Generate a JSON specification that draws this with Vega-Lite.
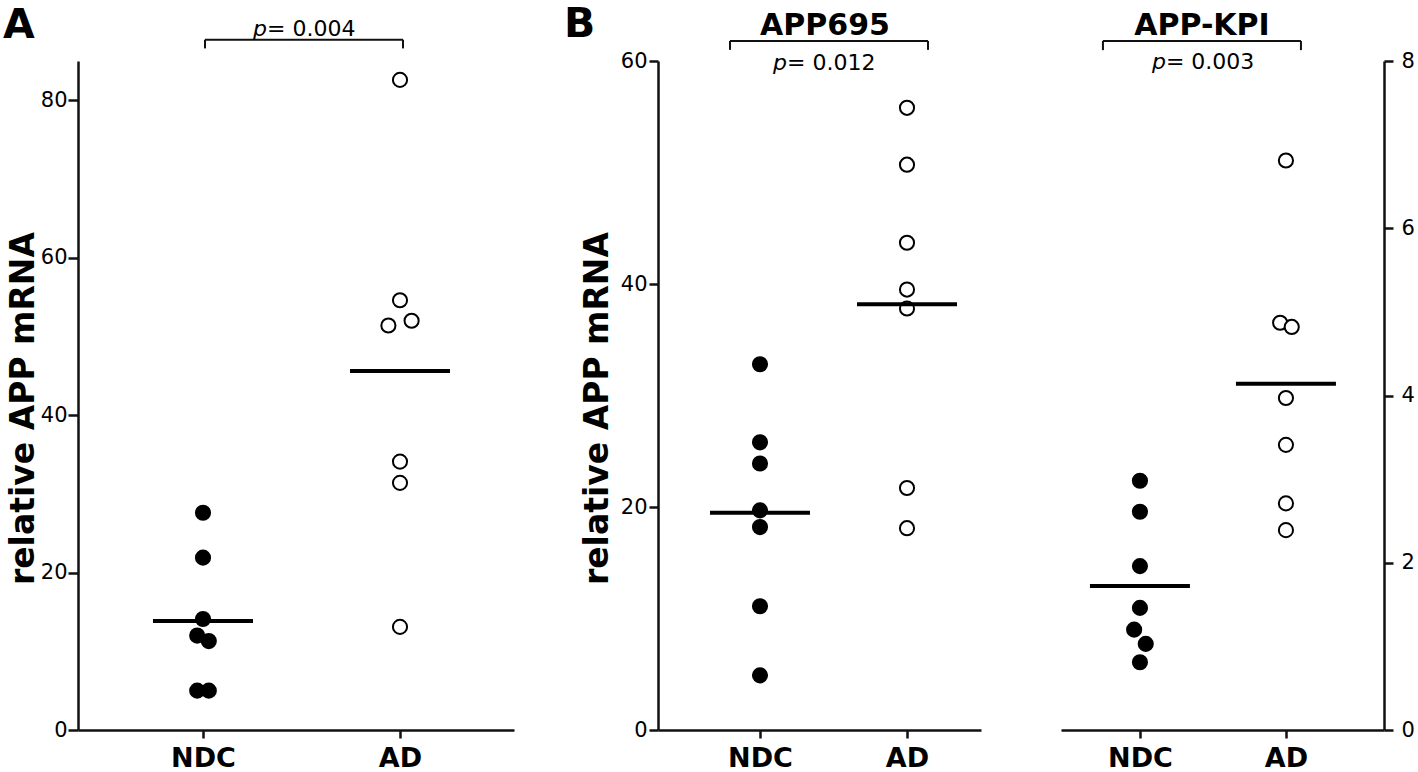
{
  "$schema": "https://vega.github.io/schema/vega-lite/v6.json",
  "background": "white",
  "padding": {"left": 3, "top": 3, "right": 2, "bottom": 0},
  "datasets": {
    "pts": [
      {"panel": "A", "group": "NDC", "lane": "C", "value": 27.6},
      {"panel": "A", "group": "NDC", "lane": "C", "value": 21.9},
      {"panel": "A", "group": "NDC", "lane": "C", "value": 14.1},
      {"panel": "A", "group": "NDC", "lane": "L1", "value": 12.0},
      {"panel": "A", "group": "NDC", "lane": "R1", "value": 11.3},
      {"panel": "A", "group": "NDC", "lane": "L1", "value": 5.0},
      {"panel": "A", "group": "NDC", "lane": "R1", "value": 5.0},
      {"panel": "A", "group": "AD", "lane": "C", "value": 82.6},
      {"panel": "A", "group": "AD", "lane": "C", "value": 54.6},
      {"panel": "A", "group": "AD", "lane": "R2", "value": 52.0},
      {"panel": "A", "group": "AD", "lane": "L2", "value": 51.4},
      {"panel": "A", "group": "AD", "lane": "C", "value": 34.1},
      {"panel": "A", "group": "AD", "lane": "C", "value": 31.4},
      {"panel": "A", "group": "AD", "lane": "C", "value": 13.1},
      {"panel": "APP695", "group": "NDC", "lane": "C", "value": 32.8},
      {"panel": "APP695", "group": "NDC", "lane": "C", "value": 25.8},
      {"panel": "APP695", "group": "NDC", "lane": "C", "value": 23.9},
      {"panel": "APP695", "group": "NDC", "lane": "C", "value": 19.7},
      {"panel": "APP695", "group": "NDC", "lane": "C", "value": 18.2},
      {"panel": "APP695", "group": "NDC", "lane": "C", "value": 11.1},
      {"panel": "APP695", "group": "NDC", "lane": "C", "value": 4.9},
      {"panel": "APP695", "group": "AD", "lane": "C", "value": 55.8},
      {"panel": "APP695", "group": "AD", "lane": "C", "value": 50.7},
      {"panel": "APP695", "group": "AD", "lane": "C", "value": 43.7},
      {"panel": "APP695", "group": "AD", "lane": "C", "value": 39.5},
      {"panel": "APP695", "group": "AD", "lane": "C", "value": 37.8},
      {"panel": "APP695", "group": "AD", "lane": "C", "value": 21.7},
      {"panel": "APP695", "group": "AD", "lane": "C", "value": 18.1},
      {"panel": "APP-KPI", "group": "NDC", "lane": "C", "value": 2.98},
      {"panel": "APP-KPI", "group": "NDC", "lane": "C", "value": 2.61},
      {"panel": "APP-KPI", "group": "NDC", "lane": "C", "value": 1.96},
      {"panel": "APP-KPI", "group": "NDC", "lane": "C", "value": 1.46},
      {"panel": "APP-KPI", "group": "NDC", "lane": "L1", "value": 1.20},
      {"panel": "APP-KPI", "group": "NDC", "lane": "R1", "value": 1.03},
      {"panel": "APP-KPI", "group": "NDC", "lane": "C", "value": 0.81},
      {"panel": "APP-KPI", "group": "AD", "lane": "C", "value": 6.81},
      {"panel": "APP-KPI", "group": "AD", "lane": "L1", "value": 4.87},
      {"panel": "APP-KPI", "group": "AD", "lane": "R1", "value": 4.82},
      {"panel": "APP-KPI", "group": "AD", "lane": "C", "value": 3.97},
      {"panel": "APP-KPI", "group": "AD", "lane": "C", "value": 3.41},
      {"panel": "APP-KPI", "group": "AD", "lane": "C", "value": 2.71},
      {"panel": "APP-KPI", "group": "AD", "lane": "C", "value": 2.39}
    ]
  },
  "config": {
    "font": "DejaVu Sans",
    "view": {"stroke": null},
    "axis": {
      "grid": false,
      "domainColor": "#111111",
      "domainWidth": 2.5,
      "tickColor": "#111111",
      "tickWidth": 2.5,
      "labelFont": "DejaVu Sans",
      "labelColor": "black",
      "titleFont": "DejaVu Sans",
      "titleColor": "black"
    },
    "axisX": {
      "title": null,
      "labelFontSize": 27,
      "labelFontWeight": "bold",
      "labelAngle": 0,
      "tickSize": 8,
      "labelPadding": 28,
      "labelBaseline": "alphabetic"
    },
    "axisY": {
      "labelFontSize": 21,
      "tickSize": 9,
      "labelPadding": 2,
      "format": "d"
    },
    "title": {"font": "DejaVu Sans", "color": "black", "fontWeight": "bold"}
  },
  "bounds": "flush",
  "spacing": 144,
  "hconcat": [
    {
      "width": 436,
      "height": 669,
      "title": {"text": "A", "anchor": "start", "frame": "group", "fontSize": 41, "dx": -75, "dy": 33},
      "data": {"name": "pts"},
      "transform": [{"filter": "datum.panel === 'A'"}],
      "encoding": {
        "x": {"field": "group", "type": "nominal", "scale": {"type": "point", "domain": ["NDC", "AD"], "padding": 0.6066, "align": 0.523}}
      },
      "layer": [
        {
          "mark": {"type": "point", "shape": "circle", "size": 200, "strokeWidth": 2, "stroke": "black", "opacity": 1},
          "encoding": {
            "xOffset": {"field": "lane", "type": "nominal", "scale": {"type": "point", "domain": ["L2", "L1", "C", "R1", "R2"], "range": [-14.5, 14.5]}},
            "y": {"field": "value", "type": "quantitative", "title": "relative APP mRNA", "scale": {"domain": [0, 85], "nice": false},
              "axis": {"values": [0, 20, 40, 60, 80], "format": "d", "tickSize": 10, "labelPadding": 1, "titleFontSize": 33, "titleFontWeight": "bold", "titleX": -45, "titleY": 347, "titleBaseline": "alphabetic"}},
            "fill": {"field": "group", "type": "nominal", "scale": {"domain": ["NDC", "AD"], "range": ["black", "white"]}, "legend": null}
          }
        },
        {
          "mark": {"type": "tick", "color": "black", "thickness": 4, "size": 100, "opacity": 1},
          "encoding": {"y": {"aggregate": "mean", "field": "value", "type": "quantitative", "title": "relative APP mRNA"}}
        },
        {
          "data": {"values": [{}]},
          "mark": {"type": "rule", "color": "#111111", "strokeWidth": 2, "xOffset": 2, "x2Offset": 3},
          "encoding": {"x": {"datum": "NDC"}, "x2": {"datum": "AD"}, "y": {"datum": 87.7}}
        },
        {
          "data": {"values": [{}]},
          "mark": {"type": "rule", "color": "#111111", "strokeWidth": 2, "xOffset": 2},
          "encoding": {"x": {"datum": "NDC"}, "y": {"datum": 87.7}, "y2": {"datum": 86.6}}
        },
        {
          "data": {"values": [{}]},
          "mark": {"type": "rule", "color": "#111111", "strokeWidth": 2, "xOffset": 3},
          "encoding": {"x": {"datum": "AD"}, "y": {"datum": 87.7}, "y2": {"datum": 86.6}}
        },
        {
          "data": {"values": [{}]},
          "mark": {"type": "text", "fontSize": 22, "fontStyle": "italic", "align": "right", "baseline": "alphabetic", "dx": 64, "color": "black"},
          "encoding": {"x": {"datum": "NDC"}, "y": {"datum": 88.2}, "text": {"value": "p"}}
        },
        {
          "data": {"values": [{}]},
          "mark": {"type": "text", "fontSize": 22, "align": "left", "baseline": "alphabetic", "dx": 64, "color": "black"},
          "encoding": {"x": {"datum": "NDC"}, "y": {"datum": 88.2}, "text": {"value": "= 0.004"}}
        }
      ]
    },
    {
      "title": {"text": "B", "anchor": "start", "frame": "group", "fontSize": 41, "dx": -94, "dy": 39},
      "bounds": "flush",
      "spacing": 80,
      "hconcat": [
        {
          "width": 323,
          "height": 669,
          "title": {"text": "APP695", "anchor": "middle", "frame": "group", "fontSize": 30, "dx": 5.5, "offset": 6, "dy": 7},
          "data": {"name": "pts"},
          "transform": [{"filter": "datum.panel === 'APP695'"}],
          "encoding": {
            "x": {"field": "group", "type": "nominal", "scale": {"type": "point", "domain": ["NDC", "AD"], "padding": 0.5986, "align": 0.5795}}
          },
          "layer": [
            {
              "mark": {"type": "point", "shape": "circle", "size": 200, "strokeWidth": 2, "stroke": "black", "opacity": 1},
              "encoding": {
                "xOffset": {"field": "lane", "type": "nominal", "scale": {"type": "point", "domain": ["L2", "L1", "C", "R1", "R2"], "range": [-14.5, 14.5]}},
                "y": {"field": "value", "type": "quantitative", "title": "relative APP mRNA", "scale": {"domain": [0, 60], "nice": false},
                  "axis": {"values": [0, 20, 40, 60], "format": "d", "titleFontSize": 33, "titleFontWeight": "bold", "titleX": -51, "titleY": 347, "titleBaseline": "alphabetic"}},
                "fill": {"field": "group", "type": "nominal", "scale": {"domain": ["NDC", "AD"], "range": ["black", "white"]}, "legend": null}
              }
            },
            {
              "mark": {"type": "tick", "color": "black", "thickness": 4, "size": 100, "opacity": 1},
              "encoding": {"y": {"aggregate": "mean", "field": "value", "type": "quantitative", "title": "relative APP mRNA"}}
            },
            {
              "data": {"values": [{}]},
              "mark": {"type": "rule", "color": "#111111", "strokeWidth": 2, "xOffset": -30, "x2Offset": 21},
              "encoding": {"x": {"datum": "NDC"}, "x2": {"datum": "AD"}, "y": {"datum": 61.8}}
            },
            {
              "data": {"values": [{}]},
              "mark": {"type": "rule", "color": "#111111", "strokeWidth": 2, "xOffset": -30},
              "encoding": {"x": {"datum": "NDC"}, "y": {"datum": 61.8}, "y2": {"datum": 61.0}}
            },
            {
              "data": {"values": [{}]},
              "mark": {"type": "rule", "color": "#111111", "strokeWidth": 2, "xOffset": 21},
              "encoding": {"x": {"datum": "AD"}, "y": {"datum": 61.8}, "y2": {"datum": 61.0}}
            },
            {
              "data": {"values": [{}]},
              "mark": {"type": "text", "fontSize": 22, "fontStyle": "italic", "align": "right", "baseline": "alphabetic", "dx": 27, "color": "black"},
              "encoding": {"x": {"datum": "NDC"}, "y": {"datum": 59.2}, "text": {"value": "p"}}
            },
            {
              "data": {"values": [{}]},
              "mark": {"type": "text", "fontSize": 22, "align": "left", "baseline": "alphabetic", "dx": 27, "color": "black"},
              "encoding": {"x": {"datum": "NDC"}, "y": {"datum": 59.2}, "text": {"value": "= 0.012"}}
            }
          ]
        },
        {
          "width": 323,
          "height": 669,
          "title": {"text": "APP-KPI", "anchor": "middle", "frame": "group", "fontSize": 30, "dx": -20.5, "offset": 6, "dy": 7},
          "data": {"name": "pts"},
          "transform": [{"filter": "datum.panel === 'APP-KPI'"}],
          "encoding": {
            "x": {"field": "group", "type": "nominal", "scale": {"type": "point", "domain": ["NDC", "AD"], "padding": 0.6062, "align": 0.446}}
          },
          "layer": [
            {
              "mark": {"type": "point", "shape": "circle", "size": 200, "strokeWidth": 2, "stroke": "black", "opacity": 1},
              "encoding": {
                "xOffset": {"field": "lane", "type": "nominal", "scale": {"type": "point", "domain": ["L2", "L1", "C", "R1", "R2"], "range": [-14.5, 14.5]}},
                "y": {"field": "value", "type": "quantitative", "title": null, "scale": {"domain": [0, 8], "nice": false},
                  "axis": {"orient": "right", "values": [0, 2, 4, 6, 8], "format": "d", "tickSize": 9, "labelPadding": 8}},
                "fill": {"field": "group", "type": "nominal", "scale": {"domain": ["NDC", "AD"], "range": ["black", "white"]}, "legend": null}
              }
            },
            {
              "mark": {"type": "tick", "color": "black", "thickness": 4, "size": 100, "opacity": 1},
              "encoding": {"y": {"aggregate": "mean", "field": "value", "type": "quantitative", "title": null}}
            },
            {
              "data": {"values": [{}]},
              "mark": {"type": "rule", "color": "#111111", "strokeWidth": 2, "xOffset": -37, "x2Offset": 15},
              "encoding": {"x": {"datum": "NDC"}, "x2": {"datum": "AD"}, "y": {"datum": 8.24}}
            },
            {
              "data": {"values": [{}]},
              "mark": {"type": "rule", "color": "#111111", "strokeWidth": 2, "xOffset": -37},
              "encoding": {"x": {"datum": "NDC"}, "y": {"datum": 8.24}, "y2": {"datum": 8.13}}
            },
            {
              "data": {"values": [{}]},
              "mark": {"type": "rule", "color": "#111111", "strokeWidth": 2, "xOffset": 15},
              "encoding": {"x": {"datum": "AD"}, "y": {"datum": 8.24}, "y2": {"datum": 8.13}}
            },
            {
              "data": {"values": [{}]},
              "mark": {"type": "text", "fontSize": 22, "fontStyle": "italic", "align": "right", "baseline": "alphabetic", "dx": 26, "color": "black"},
              "encoding": {"x": {"datum": "NDC"}, "y": {"datum": 7.9}, "text": {"value": "p"}}
            },
            {
              "data": {"values": [{}]},
              "mark": {"type": "text", "fontSize": 22, "align": "left", "baseline": "alphabetic", "dx": 26, "color": "black"},
              "encoding": {"x": {"datum": "NDC"}, "y": {"datum": 7.9}, "text": {"value": "= 0.003"}}
            }
          ]
        }
      ]
    }
  ]
}
